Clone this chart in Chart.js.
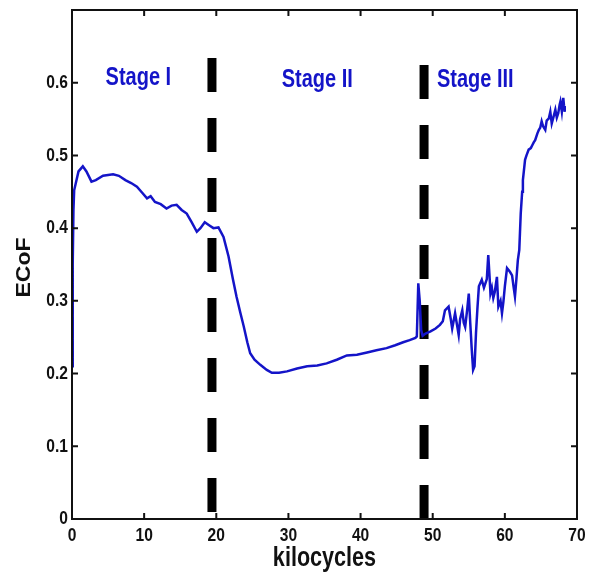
<!DOCTYPE html>
<html lang="en">
<head>
<meta charset="UTF-8" />
<title>ECoF vs kilocycles</title>
<script src="https://cdn.jsdelivr.net/npm/chart.js"></script>
<style>
  body { margin: 0; background: #fff; }
  canvas { display: block; }
</style>
</head>
<body>
<canvas id="ecofChart" width="598" height="573"></canvas>
<script>
  // friction coefficient trace over the test
  const kilocycles = [
    0, 0.1, 0.2, 0.3, 0.9, 1.5, 2.0, 2.7, 3.3, 4.3, 5.0, 5.7, 6.5, 7.4, 8.2, 9.0,
    9.7, 10.4, 10.9, 11.5, 12.3, 13.1, 13.8, 14.5, 15.2, 15.9, 16.6, 17.3, 17.8,
    18.4, 19.0, 19.6, 20.3, 21.0, 21.7, 22.3, 22.8, 23.3, 23.8, 24.3, 24.7, 25.3,
    26.1, 27.0, 27.7, 28.7, 29.8, 31.2, 32.6, 34.0, 35.3, 36.7, 38.1, 39.5, 40.9,
    42.2, 43.6, 44.8, 45.9, 46.8, 47.6, 47.8, 48.0, 48.2, 48.4, 48.6,
    49.0, 49.7, 50.4, 51.0, 51.4, 51.7, 52.2, 52.5, 52.7, 53.1, 53.4, 53.6, 53.8,
    54.1, 54.3, 54.5, 54.8, 55.0, 55.2, 55.4, 55.6, 55.8, 56.0, 56.2, 56.4, 56.8,
    57.1, 57.3, 57.5, 57.7, 57.9, 58.0, 58.2, 58.4, 58.6, 58.9, 59.1, 59.4, 59.6,
    59.8, 60.0, 60.3, 60.7, 61.0, 61.2, 61.4, 61.6, 61.8, 62.0, 62.2, 62.4, 62.5,
    62.8, 63.0, 63.3, 63.6, 63.8, 64.0, 64.2, 64.5, 64.7, 64.9, 65.1, 65.3, 65.6,
    65.8, 66.1, 66.3, 66.5, 66.8, 67.0, 67.2, 67.4, 67.6, 67.7, 67.9, 68.1, 68.2,
    68.3
  ];
  const ecof = [
    0.21, 0.35, 0.425, 0.452, 0.478, 0.485, 0.478, 0.464, 0.466, 0.472, 0.473,
    0.474, 0.472, 0.466, 0.462, 0.457, 0.449, 0.441, 0.444, 0.436, 0.433, 0.427,
    0.431, 0.432, 0.425, 0.42, 0.408, 0.395, 0.4, 0.408, 0.404, 0.4, 0.401, 0.388,
    0.361, 0.33, 0.306, 0.285, 0.265, 0.243, 0.228, 0.219, 0.212, 0.205, 0.201,
    0.201, 0.203, 0.207, 0.21, 0.211, 0.214, 0.219, 0.225, 0.226, 0.229, 0.232,
    0.235, 0.239, 0.243, 0.246, 0.249, 0.251, 0.324, 0.3, 0.26, 0.252,
    0.255, 0.258, 0.262, 0.267, 0.272, 0.287, 0.292, 0.275, 0.262, 0.283, 0.265,
    0.253, 0.275, 0.287, 0.27, 0.264, 0.29, 0.31, 0.27, 0.235, 0.205, 0.21, 0.256,
    0.29, 0.32, 0.329, 0.318, 0.324, 0.33, 0.363, 0.33, 0.31, 0.318, 0.304, 0.312,
    0.333, 0.292, 0.3, 0.283, 0.299, 0.32, 0.345, 0.34, 0.335, 0.32, 0.306, 0.33,
    0.356, 0.37, 0.42, 0.45, 0.466, 0.494, 0.5, 0.508, 0.51, 0.514, 0.518, 0.521,
    0.53, 0.535, 0.538, 0.547, 0.54, 0.535, 0.548, 0.551, 0.56, 0.544, 0.555,
    0.563, 0.552, 0.558, 0.57, 0.574, 0.56, 0.579, 0.568, 0.56
  ];

  // stage boundaries and the vertical extent of each dashed marker
  const stageBounds = [19.4, 48.8];
  const boundTop = [0.634, 0.6245];
  const boundBottom = [0.008, 0];

  const stageNames = ["Stage I", "Stage II", "Stage III"];
  const stageLabelX = [9.2, 34.0, 55.9];
  const stageLabelY = [0.597, 0.594, 0.594];

  const xMax = 70, xStep = 10;
  const yMax = 0.7, yStep = 0.1;
  const xTitle = "kilocycles";
  const yTitle = "ECoF";

  const traceColor = "#1414c8";
  const inkColor = "#111";
  const fontFamily = "'Liberation Sans', Arial, sans-serif";
  const squeeze = 0.8; // text is set narrow

  const boundDatasets = stageBounds.map((k, i) => ({
    data: [{ x: k, y: boundTop[i] }, { x: k, y: boundBottom[i] }],
    borderColor: "#000",
    borderWidth: 9,
    borderDash: [34, 26],
    borderCapStyle: "butt",
    pointRadius: 0,
  }));

  function narrowText(ctx, text, x, y, sx, sy, angle) {
    ctx.save();
    ctx.translate(x, y);
    if (angle) ctx.rotate(angle);
    ctx.scale(sx, sy);
    ctx.fillText(text, 0, 0);
    ctx.restore();
  }

  // box with inward ticks, tick labels, axis titles and stage names
  const framePlugin = {
    id: "frame",
    afterDatasetsDraw(chart) {
      const { ctx, chartArea: a, scales: { x, y } } = chart;
      ctx.save();
      ctx.strokeStyle = inkColor;
      ctx.lineWidth = 2;
      ctx.strokeRect(a.left, a.top, a.right - a.left, a.bottom - a.top);
      ctx.beginPath();
      x.ticks.forEach((t) => {
        const px = x.getPixelForValue(t.value);
        if (px <= a.left + 1 || px >= a.right - 1) return;
        ctx.moveTo(px, a.bottom); ctx.lineTo(px, a.bottom - 6);
        ctx.moveTo(px, a.top); ctx.lineTo(px, a.top + 6);
      });
      y.ticks.forEach((t) => {
        const py = y.getPixelForValue(t.value);
        if (py >= a.bottom - 1 || py <= a.top + 1) return;
        ctx.moveTo(a.left, py); ctx.lineTo(a.left + 6, py);
        ctx.moveTo(a.right, py); ctx.lineTo(a.right - 6, py);
      });
      ctx.stroke();

      ctx.fillStyle = inkColor;
      ctx.font = "bold 19px " + fontFamily;
      ctx.textBaseline = "middle";
      ctx.textAlign = "center";
      x.ticks.forEach((t) => {
        narrowText(ctx, String(t.value), x.getPixelForValue(t.value), a.bottom + 17, 0.82, 1);
      });
      ctx.textAlign = "right";
      y.ticks.forEach((t) => {
        if (t.value > yMax - yStep / 2) return;
        const lbl = t.value === 0 ? "0" : t.value.toFixed(1);
        narrowText(ctx, lbl, a.left - 4, y.getPixelForValue(t.value), 0.82, 1);
      });

      ctx.textAlign = "center";
      ctx.font = "bold 27px " + fontFamily;
      narrowText(ctx, xTitle, (a.left + a.right) / 2, a.bottom + 40, squeeze, 1);
      ctx.font = "bold 23px " + fontFamily;
      narrowText(ctx, yTitle, 24, (a.top + a.bottom) / 2 + 3, 1, 0.9, -Math.PI / 2);

      ctx.fillStyle = traceColor;
      ctx.font = "bold 25px " + fontFamily;
      ctx.textBaseline = "alphabetic";
      stageNames.forEach((s, i) => {
        narrowText(ctx, s, x.getPixelForValue(stageLabelX[i]), y.getPixelForValue(stageLabelY[i]), squeeze, 1);
      });
      ctx.restore();
    },
  };

  new Chart(document.getElementById("ecofChart"), {
    type: "line",
    data: {
      datasets: [
        {
          data: kilocycles.map((k, i) => ({ x: k, y: ecof[i] })),
          borderColor: traceColor,
          borderWidth: 2.5,
          pointRadius: 0,
          tension: 0,
        },
        ...boundDatasets,
      ],
    },
    options: {
      responsive: false,
      animation: false,
      layout: { padding: { left: 0, top: 10, right: 21, bottom: 0 } },
      plugins: { legend: { display: false }, tooltip: { enabled: false } },
      scales: {
        x: {
          type: "linear",
          min: 0,
          max: xMax,
          grid: { display: false },
          border: { display: false },
          ticks: { stepSize: xStep, display: false },
          afterFit(scale) { scale.height = 54; },
        },
        y: {
          min: 0,
          max: yMax,
          grid: { display: false },
          border: { display: false },
          ticks: { stepSize: yStep, display: false },
          afterFit(scale) { scale.width = 72; },
        },
      },
    },
    plugins: [framePlugin],
  });
</script>
</body>
</html>
